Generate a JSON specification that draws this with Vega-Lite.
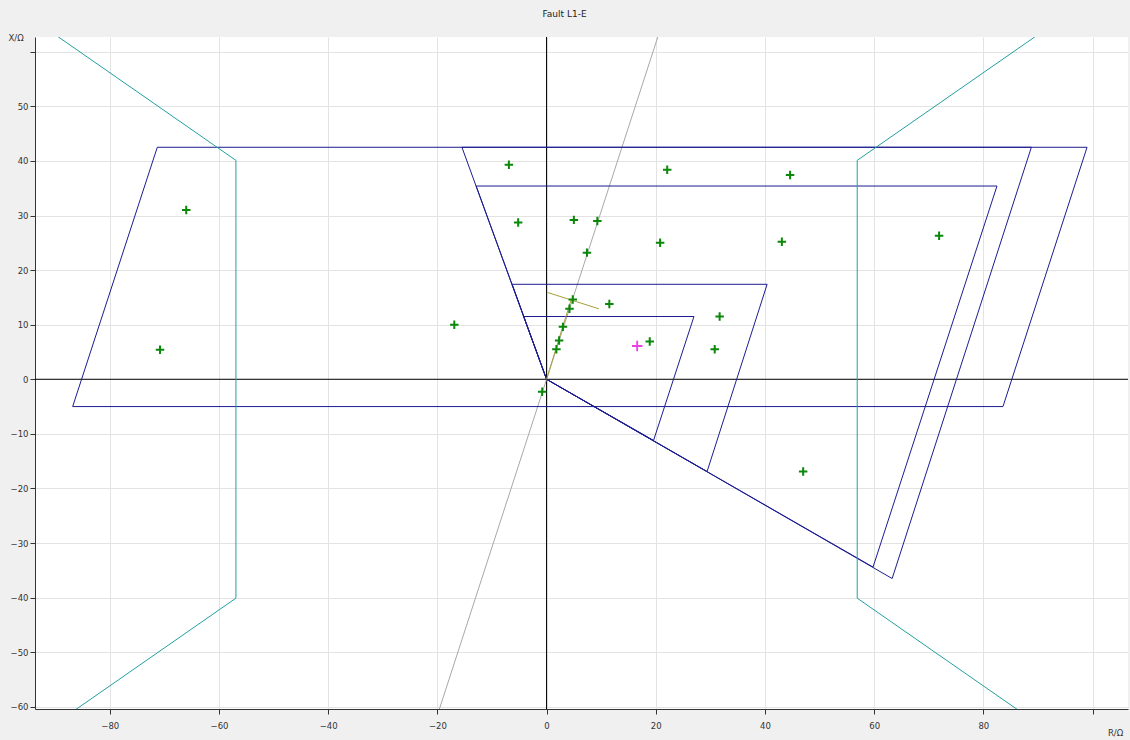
{
  "$schema": "https://vega.github.io/schema/vega-lite/v6.json",
  "width": 1093,
  "height": 672,
  "autosize": {"type": "none"},
  "padding": {"left": 35, "top": 37, "right": 2, "bottom": 31},
  "background": "#f0f0f0",
  "config": {
    "view": {"fill": "white", "stroke": null},
    "font": "DejaVu Sans"
  },
  "title": {
    "text": "Fault L1-E",
    "fontSize": 9,
    "fontWeight": "normal",
    "color": "#222222",
    "anchor": "middle",
    "frame": "group",
    "dx": -17,
    "offset": 14
  },
  "datasets": {
    "shapes": [
      {"id": "Z1", "kind": "zone", "o": 0, "R": 0, "X": 0},
      {"id": "Z1", "kind": "zone", "o": 1, "R": -4.2, "X": 11.5},
      {"id": "Z1", "kind": "zone", "o": 2, "R": 27.0, "X": 11.5},
      {"id": "Z1", "kind": "zone", "o": 3, "R": 19.6, "X": -11.2},
      {"id": "Z1", "kind": "zone", "o": 4, "R": 0, "X": 0},
      {"id": "Z2", "kind": "zone", "o": 0, "R": 0, "X": 0},
      {"id": "Z2", "kind": "zone", "o": 1, "R": -6.3, "X": 17.4},
      {"id": "Z2", "kind": "zone", "o": 2, "R": 40.4, "X": 17.4},
      {"id": "Z2", "kind": "zone", "o": 3, "R": 29.4, "X": -16.9},
      {"id": "Z2", "kind": "zone", "o": 4, "R": 0, "X": 0},
      {"id": "Z3", "kind": "zone", "o": 0, "R": 0, "X": 0},
      {"id": "Z3", "kind": "zone", "o": 1, "R": -12.9, "X": 35.4},
      {"id": "Z3", "kind": "zone", "o": 2, "R": 82.5, "X": 35.4},
      {"id": "Z3", "kind": "zone", "o": 3, "R": 59.8, "X": -34.4},
      {"id": "Z3", "kind": "zone", "o": 4, "R": 0, "X": 0},
      {"id": "Z4", "kind": "zone", "o": 0, "R": 0, "X": 0},
      {"id": "Z4", "kind": "zone", "o": 1, "R": -15.5, "X": 42.5},
      {"id": "Z4", "kind": "zone", "o": 2, "R": 88.8, "X": 42.5},
      {"id": "Z4", "kind": "zone", "o": 3, "R": 63.3, "X": -36.5},
      {"id": "Z4", "kind": "zone", "o": 4, "R": 0, "X": 0},
      {"id": "Z5", "kind": "zone", "o": 0, "R": -86.8, "X": -5.0},
      {"id": "Z5", "kind": "zone", "o": 1, "R": -71.3, "X": 42.5},
      {"id": "Z5", "kind": "zone", "o": 2, "R": 99.0, "X": 42.5},
      {"id": "Z5", "kind": "zone", "o": 3, "R": 83.6, "X": -5.0},
      {"id": "Z5", "kind": "zone", "o": 4, "R": -86.8, "X": -5.0},
      {"id": "TL", "kind": "teal", "o": 0, "R": -99.9, "X": 70},
      {"id": "TL", "kind": "teal", "o": 1, "R": -56.9, "X": 40.1},
      {"id": "TL", "kind": "teal", "o": 2, "R": -56.9, "X": -40.1},
      {"id": "TL", "kind": "teal", "o": 3, "R": -99.9, "X": -70},
      {"id": "TR", "kind": "teal", "o": 0, "R": 99.9, "X": 70},
      {"id": "TR", "kind": "teal", "o": 1, "R": 56.9, "X": 40.1},
      {"id": "TR", "kind": "teal", "o": 2, "R": 56.9, "X": -40.1},
      {"id": "TR", "kind": "teal", "o": 3, "R": 99.9, "X": -70}
    ],
    "load": [
      {"id": "L", "o": 0, "R": -22, "X": -67.7},
      {"id": "L", "o": 1, "R": 22, "X": 67.7}
    ],
    "traj": [
      {"id": "A", "o": 0, "R": 0, "X": 0},
      {"id": "A", "o": 1, "R": 4.5, "X": 14.6},
      {"id": "B", "o": 0, "R": 0.2, "X": 15.9},
      {"id": "B", "o": 1, "R": 9.6, "X": 12.9}
    ],
    "points": [
      {"t": "g", "R": -6.9, "X": 39.3},
      {"t": "g", "R": 22.1, "X": 38.4},
      {"t": "g", "R": 44.6, "X": 37.4},
      {"t": "g", "R": -66.0, "X": 31.0},
      {"t": "g", "R": -5.2, "X": 28.7},
      {"t": "g", "R": 5.0, "X": 29.2},
      {"t": "g", "R": 9.3, "X": 29.0},
      {"t": "g", "R": 20.8, "X": 25.0},
      {"t": "g", "R": 43.1, "X": 25.2},
      {"t": "g", "R": 71.9, "X": 26.3},
      {"t": "g", "R": 7.4, "X": 23.2},
      {"t": "g", "R": -16.9, "X": 10.0},
      {"t": "g", "R": -70.8, "X": 5.4},
      {"t": "g", "R": 4.8, "X": 14.6},
      {"t": "g", "R": 4.2, "X": 12.9},
      {"t": "g", "R": 11.5, "X": 13.8},
      {"t": "g", "R": 31.7, "X": 11.5},
      {"t": "g", "R": 3.0, "X": 9.6},
      {"t": "g", "R": 2.3, "X": 7.1},
      {"t": "g", "R": 1.8, "X": 5.5},
      {"t": "g", "R": 18.9, "X": 6.9},
      {"t": "g", "R": 30.8, "X": 5.5},
      {"t": "g", "R": -0.8, "X": -2.3},
      {"t": "g", "R": 47.0, "X": -16.9},
      {"t": "m", "R": 16.6, "X": 6.1}
    ],
    "zero": [{"v": 0}]
  },
  "layer": [
    {
      "data": {"name": "zero"},
      "mark": {"type": "rule", "color": "#000000", "strokeWidth": 1},
      "encoding": {
        "x": {
          "field": "v",
          "type": "quantitative",
          "scale": {"domain": [-93.7, 106.5], "nice": false, "zero": false},
          "axis": {
            "values": [-80, -60, -40, -20, 0, 20, 40, 60, 80, 100],
            "labelExpr": "datum.value == 100 ? '' : datum.label",
            "grid": true,
            "gridColor": "#e3e3e3",
            "gridWidth": 1,
            "domainColor": "#333333",
            "domainWidth": 1,
            "tickColor": "#333333",
            "tickSize": 5,
            "labelFontSize": 8.5,
            "labelColor": "#333333",
            "labelPadding": 7,
            "title": "R/Ω",
            "titleFontSize": 8.5,
            "titleFontWeight": "normal",
            "titleColor": "#333333",
            "titleX": 1080,
            "titleY": 23,
            "titleAlign": "center",
            "titleBaseline": "middle"
          }
        }
      }
    },
    {
      "data": {"name": "zero"},
      "mark": {"type": "rule", "color": "#000000", "strokeWidth": 1},
      "encoding": {
        "y": {
          "field": "v",
          "type": "quantitative",
          "scale": {"domain": [-60.4, 62.7], "nice": false, "zero": false},
          "axis": {
            "values": [-60, -50, -40, -30, -20, -10, 0, 10, 20, 30, 40, 50, 60],
            "labelExpr": "datum.value == 60 ? '' : datum.label",
            "grid": true,
            "gridColor": "#e3e3e3",
            "gridWidth": 1,
            "domainColor": "#333333",
            "domainWidth": 1,
            "tickColor": "#333333",
            "tickSize": 5,
            "labelFontSize": 8.5,
            "labelColor": "#333333",
            "labelPadding": 2,
            "title": "X/Ω",
            "titleFontSize": 8.5,
            "titleFontWeight": "normal",
            "titleColor": "#333333",
            "titleAngle": 0,
            "titleX": -27,
            "titleY": 0,
            "titleAlign": "left",
            "titleBaseline": "middle"
          }
        }
      }
    },
    {
      "data": {"name": "load"},
      "mark": {"type": "line", "clip": true, "color": "#a8a8a8", "strokeWidth": 1},
      "encoding": {
        "x": {"field": "R", "type": "quantitative"},
        "y": {"field": "X", "type": "quantitative"},
        "detail": {"field": "id"},
        "order": {"field": "o"}
      }
    },
    {
      "data": {"name": "shapes"},
      "mark": {"type": "line", "clip": true, "strokeWidth": 1},
      "encoding": {
        "x": {"field": "R", "type": "quantitative"},
        "y": {"field": "X", "type": "quantitative"},
        "detail": {"field": "id"},
        "order": {"field": "o"},
        "color": {
          "field": "kind",
          "type": "nominal",
          "scale": {"domain": ["zone", "teal"], "range": ["#1c1c90", "#22a0a0"]},
          "legend": null
        }
      }
    },
    {
      "data": {"name": "traj"},
      "mark": {"type": "line", "clip": true, "color": "#a89f3a", "strokeWidth": 1},
      "encoding": {
        "x": {"field": "R", "type": "quantitative"},
        "y": {"field": "X", "type": "quantitative"},
        "detail": {"field": "id"},
        "order": {"field": "o"}
      }
    },
    {
      "data": {"name": "points"},
      "transform": [{"filter": "datum.t == 'g'"}],
      "mark": {
        "type": "point",
        "shape": "M-1,0L1,0M0,-1L0,1",
        "filled": false,
        "stroke": "#0a880a",
        "strokeWidth": 2,
        "size": 72,
        "opacity": 1
      },
      "encoding": {
        "x": {"field": "R", "type": "quantitative"},
        "y": {"field": "X", "type": "quantitative"}
      }
    },
    {
      "data": {"name": "points"},
      "transform": [{"filter": "datum.t == 'm'"}],
      "mark": {
        "type": "point",
        "shape": "M-1,0L1,0M0,-1L0,1",
        "filled": false,
        "stroke": "#e83fe8",
        "strokeWidth": 1.8,
        "size": 110,
        "opacity": 1
      },
      "encoding": {
        "x": {"field": "R", "type": "quantitative"},
        "y": {"field": "X", "type": "quantitative"}
      }
    }
  ]
}
